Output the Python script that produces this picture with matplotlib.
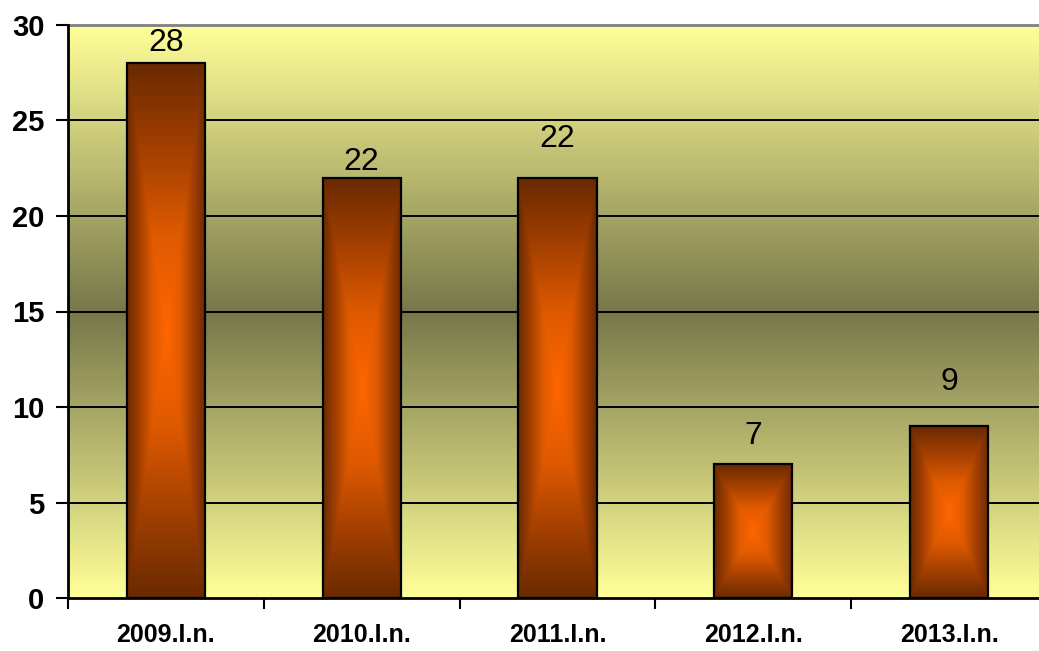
import numpy as np
import matplotlib
matplotlib.use("Agg")
import matplotlib.pyplot as plt
from matplotlib.colors import LinearSegmentedColormap
from matplotlib.patches import Rectangle

categories = ["2009.I.n.", "2010.I.n.", "2011.I.n.", "2012.I.n.", "2013.I.n."]
values = [28, 22, 22, 7, 9]
y_ticks = [0, 5, 10, 15, 20, 25, 30]

plt.rcParams['font.family'] = ['Liberation Sans', 'DejaVu Sans']

fig = plt.figure(figsize=(10.39, 6.51), dpi=100)
W, H = 1039, 651
left, right, top, bottom = 68, 1047, 25, 598
ax = fig.add_axes([left / W, 1 - bottom / H, (right - left) / W, (bottom - top) / H])

n = len(categories)
ax.set_xlim(0, n)
ax.set_ylim(0, 30)

# background gradient
bg = LinearSegmentedColormap.from_list(
    "bg", [(0, "#FFFF99"), (0.5, "#77774A"), (1, "#FFFF99")])
grad = np.linspace(0, 1, 256).reshape(-1, 1)
ax.imshow(grad, cmap=bg, aspect="auto", extent=(0, n, 0, 30),
          origin="lower", zorder=0, interpolation="bilinear")

# grid lines
for t in y_ticks[1:-1]:
    ax.axhline(t, color="black", lw=1.4, zorder=1)

# bars with rectangular (from-centre) gradient
barcm = LinearSegmentedColormap.from_list(
    "bar", [(0, "#FF6600"), (0.35, "#E05A00"), (0.7, "#A03E00"), (1, "#6A2A00")])
bw = 0.4
res = 240
u = np.linspace(-1, 1, res)
U, V = np.meshgrid(u, u)
D = np.maximum(np.abs(U), np.abs(V))
for i, v in enumerate(values):
    xc = i + 0.5
    ax.imshow(D, cmap=barcm, vmin=0, vmax=1, aspect="auto",
              extent=(xc - bw / 2, xc + bw / 2, 0, v), origin="lower",
              zorder=2, interpolation="bilinear")
    ax.add_patch(Rectangle((xc - bw / 2, 0), bw, v, fill=False,
                           edgecolor="black", lw=1.6, zorder=3))

# value labels
label_offsets = [1.05, 0.85, 2.05, 1.5, 2.3]
for i, v in enumerate(values):
    ax.text(i + 0.5, v + label_offsets[i], str(v), ha="center", va="center",
            fontsize=23, color="black", zorder=4)

ax.set_yticks(y_ticks)
ax.set_yticklabels([str(t) for t in y_ticks], fontsize=21, fontweight="bold")
ax.set_xticks(np.arange(0, n + 1))
ax.set_xticklabels([])
ax.set_xticks(np.arange(n) + 0.5, minor=True)
ax.set_xticklabels(categories, minor=True, fontsize=18, fontweight="bold")
ax.tick_params(axis="x", which="minor", length=0, pad=18)
ax.tick_params(axis="x", which="major", length=8, width=1.5, direction="out")
ax.tick_params(axis="y", length=9, width=1.5, direction="out", pad=8)

for s in ["left", "bottom"]:
    ax.spines[s].set_linewidth(2)
    ax.spines[s].set_color("black")
    ax.spines[s].set_zorder(5)
ax.spines["top"].set_color("#808080")
ax.spines["top"].set_linewidth(2)
ax.spines["right"].set_visible(False)

fig.savefig("out.png", dpi=100)
